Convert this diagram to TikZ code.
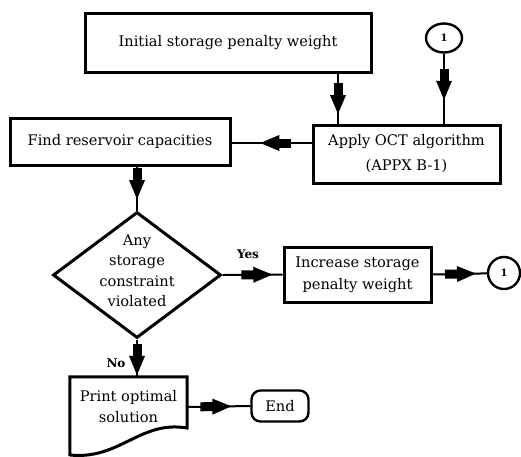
\documentclass[tikz,border=0pt]{standalone}
\usepackage{fontspec}
\setmainfont{DejaVu Serif}
\usetikzlibrary{shapes.geometric,decorations.markings}
\begin{document}
\begin{tikzpicture}[x=1pt,y=-1pt,
  box/.style={draw, line width=3pt, rectangle, inner sep=0pt, align=center,
              font=\fontsize{14.6}{22}\selectfont},
  conn/.style={draw, line width=2.4pt, inner sep=0pt, font=\fontsize{10}{10}\selectfont\bfseries},
  tag/.style={font=\fontsize{12}{12}\selectfont\bfseries},
  link/.style={line width=2pt, postaction={decorate},
    decoration={markings, mark=at position #1 with {
      \fill (-31pt,-4.5pt) rectangle (-17pt,4.5pt);
      \fill (0pt,0pt) -- (-19pt,8pt) -- (-19pt,-8pt) -- cycle;}}},
  link/.default=0.75]
\useasboundingbox (0,0) rectangle (521,456);

% process boxes
\node[box, minimum width=286pt, minimum height=59pt] (init) at (228,42.5) {Initial storage penalty weight};
\node[conn, ellipse, minimum width=36pt, minimum height=29pt] (c1) at (444,38) {1};
\node[box, minimum width=187pt, minimum height=58pt, font=\fontsize{14.6}{25}\selectfont] (apply) at (406.5,154) {Apply OCT algorithm\\(APPX B-1)};
\node[box, minimum width=220pt, minimum height=47pt] (find) at (120,141.5) {Find reservoir capacities};

% decision
\node[draw, diamond, line width=3pt, minimum width=168pt, minimum height=126pt, inner sep=0pt] (dia) at (137,275) {};
\node[align=center, font=\fontsize{14.6}{20.5}\selectfont] (diatext) at (137,271) {Any\\storage\\constraint\\violated};

\node[box, minimum width=147pt, minimum height=55pt] (incr) at (357.5,274.5) {Increase storage\\penalty weight};
\node[conn, circle, minimum size=32pt] (c2) at (504,273) {1};

% document-shaped output box
\node[minimum width=117pt, minimum height=60pt, inner sep=0pt, align=center,
      font=\fontsize{14.6}{21}\selectfont] (print) at (128.5,407) {Print optimal\\solution};
\draw[line width=3pt, line join=miter]
  (print.north west |- 0,456) -- (print.north west) -- (print.north east) -- (187,428)
  .. controls (140,420) and (120,460) .. (70,455);

\node[draw, rounded corners=9pt, line width=2.4pt, minimum width=57pt, minimum height=31pt,
      font=\fontsize{14.6}{14.6}\selectfont] (end) at (280,406) {End};

% branch labels
\node[tag] (yes) at (248,254) {Yes};
\node[tag] (no) at (116,363) {No};

% connectors
\coordinate (a1) at (338,0);
\coordinate (a3) at (0,143);
\draw[link=0.81] (init.south -| a1) -- (apply.north -| a1);
\draw[link=0.66] (c1.south) -- (apply.north -| c1.south);
\draw[link=0.64] (apply.west |- a3) -- (find.east |- a3);
\draw[link=0.74] (find.south -| dia.north) -- (dia.north);
\draw[link=0.83] (dia.east) -- (incr.west);
\draw[link=0.8] (incr.east) -- (c2);
\draw[link=0.95] (dia.south) -- (print.north -| dia.south);
\draw[link=0.7] (print.east) -- (end.west);
\end{tikzpicture}
\end{document}
